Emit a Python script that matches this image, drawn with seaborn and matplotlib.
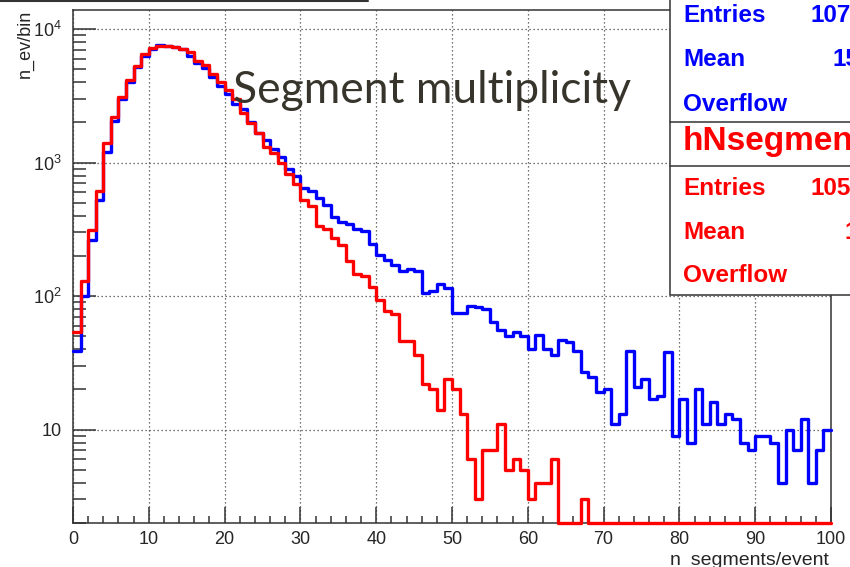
import numpy as np
import pandas as pd
import matplotlib
matplotlib.use("Agg")
import matplotlib.pyplot as plt
import seaborn as sns
from matplotlib.lines import Line2D
from matplotlib.patches import Rectangle
from matplotlib.ticker import FixedLocator, FixedFormatter, LogLocator, NullFormatter, MultipleLocator

# 100 bins of width 1 from 0 to 100
n_bins = 100
x_range = (0, 100)

# blue histogram (counts per bin)
blue_counts = [39, 101, 262, 528, 1200, 2055, 2985, 4030, 5200, 6300,
               7100, 7600, 7450, 7350, 7050, 6300, 5530, 5070, 4340, 3760,
               3240, 2740, 2500, 2000, 1670, 1470, 1260, 1104, 888, 791,
               640, 614, 543, 479, 392, 356, 345, 316, 307, 246,
               204, 185, 172, 153, 160, 153, 105, 110, 124, 116,
               75, 75, 85, 83, 80, 64, 56, 50, 54, 50,
               40, 51, 40, 36, 47, 45, 39, 27, 25, 19,
               20, 11, 13, 39, 21, 24, 17, 18, 38, 9,
               17, 8, 20, 11, 16, 11, 13, 12, 8, 7,
               9, 9, 8, 4, 10, 7, 12, 4, 7, 10]

# red histogram
red_counts = [54, 129, 311, 611, 1390, 2200, 3080, 4150, 5280, 6500,
              7170, 7460, 7480, 7380, 7130, 6680, 5730, 5340, 4600, 3980,
              3490, 2985, 2370, 1995, 1670, 1312, 1180, 998, 828, 690,
              525, 471, 333, 317, 274, 243, 183, 146, 141, 118,
              93, 78, 74, 46, 46, 36, 22, 20, 14, 24,
              20, 13, 6, 3, 7, 7, 11, 5, 6, 5,
              3, 4, 4, 6, 0, 0, 0, 3, 0, 0,
              0, 0, 0, 0, 0, 0, 0, 0, 0, 0,
              0, 0, 0, 0, 0, 0, 0, 0, 0, 0,
              0, 0, 0, 0, 0, 0, 0, 0, 0, 0]

ytick_vals = [10, 100, 1000, 10000]
ytick_labels = ["10", "10$^2$", "10$^3$", "10$^4$"]

# stats box rows: label, visible value, baseline (px from top)
blue_stats = [("Entries", "107", 22.5), ("Mean", "15", 66.5), ("Overflow", "", 111)]
red_stats = [("Entries", "105", 195), ("Mean", "1", 238.5), ("Overflow", "", 282)]
blue_val_x = [810, 832, 0]
red_val_x = [810, 845, 0]

sns.set_style("ticks")
plt.rcParams["font.family"] = ["Liberation Sans", "DejaVu Sans"]
plt.rcParams["mathtext.fontset"] = "custom"
plt.rcParams["mathtext.rm"] = "Liberation Sans"
plt.rcParams["mathtext.default"] = "regular"

W, H = 850, 567
ymin, ymax = 2, 1.4e4

fig = plt.figure(figsize=(W / 100, H / 100), dpi=100)
ax = fig.add_axes([73 / W, 1 - 523 / H, (831 - 73) / W, (523 - 9.5) / H])

# empty bins are drawn on the axis floor, like ROOT does
df = pd.DataFrame({
    "center": np.arange(n_bins) + 0.5,
    "blue": np.maximum(blue_counts, ymin),
    "red": np.maximum(red_counts, ymin),
})
sns.histplot(data=df, x="center", weights="blue", bins=n_bins, binrange=x_range,
             element="step", fill=False, color="#0000ff", linewidth=2.4, ax=ax)
sns.histplot(data=df, x="center", weights="red", bins=n_bins, binrange=x_range,
             element="step", fill=False, color="#ff0000", linewidth=2.4, ax=ax)
for ln in ax.lines:
    ln.set_clip_on(False)
    ln.set_zorder(3)

ax.set_yscale("log")
ax.set_xlim(*x_range)
ax.set_ylim(ymin, ymax)
ax.set_xlabel("")
ax.set_ylabel("")

ax.xaxis.set_major_locator(MultipleLocator(10))
ax.xaxis.set_minor_locator(MultipleLocator(2))
ax.yaxis.set_major_locator(FixedLocator(ytick_vals))
ax.yaxis.set_major_formatter(FixedFormatter(ytick_labels))
ax.yaxis.set_minor_locator(LogLocator(base=10, subs=np.arange(2, 10)))
ax.yaxis.set_minor_formatter(NullFormatter())

ax.tick_params(axis="x", which="major", direction="in", length=11.5, width=1.1,
               color="#333333", labelsize=13, pad=6, bottom=True, top=False)
ax.tick_params(axis="x", which="minor", direction="in", length=5, width=1.1,
               color="#333333", bottom=True, top=False)
ax.tick_params(axis="y", which="major", direction="in", length=16.5, width=1.1,
               color="#333333", labelsize=13, pad=8, left=True, right=False)
ax.tick_params(axis="y", which="minor", direction="in", length=9.4, width=1.1,
               color="#333333", left=True, right=False)

ax.grid(True, which="major", linestyle=(0, (1, 2.2)), color="#444444", linewidth=0.9)
for sp in ax.spines.values():
    sp.set_visible(True)
    sp.set_color("#333333")
    sp.set_linewidth(1.1)

# axis titles, ROOT style
fig.text(25 / W, 1 - 10 / H, "n_ev/bin", rotation=90, ha="center", va="top", fontsize=13)
fig.text(830 / W, 1 - 565 / H, "n_segments/event", ha="right", va="baseline", fontsize=14)

# line left at the top from a cropped box
fig.add_artist(Line2D([0, 368 / W], [1 - 1.2 / H] * 2, color="#333333", lw=1.5))

# stats box
bx = 670 / W
fig.add_artist(Rectangle((bx, 1 - 295 / H), 0.4, 0.6, transform=fig.transFigure,
                         facecolor="white", edgecolor="#333333", lw=1.1, zorder=5))
for yy in [122, 166]:
    fig.add_artist(Line2D([bx, 1.05], [1 - yy / H] * 2, color="#333333", lw=1.1, zorder=6))

for (lab, val, yb), vx in zip(blue_stats, blue_val_x):
    fig.text(683 / W, 1 - yb / H, lab, color="#0000ff", fontsize=17.5, fontweight="bold",
             va="baseline", zorder=7)
    if val:
        fig.text(vx / W, 1 - yb / H, val, color="#0000ff", fontsize=17.5, fontweight="bold",
                 va="baseline", zorder=7)
fig.text(683 / W, 1 - 150 / H, "hNsegments", color="#ff0000", fontsize=24, fontweight="bold",
         va="baseline", zorder=7)
for (lab, val, yb), vx in zip(red_stats, red_val_x):
    fig.text(683 / W, 1 - yb / H, lab, color="#ff0000", fontsize=17.5, fontweight="bold",
             va="baseline", zorder=7)
    if val:
        fig.text(vx / W, 1 - yb / H, val, color="#ff0000", fontsize=17.5, fontweight="bold",
                 va="baseline", zorder=7)

# slide title over the plot
title = fig.text(233 / W, 1 - 103 / H, "Segment multiplicity", family=["Lato", "DejaVu Sans"],
                 fontsize=30, color="#37342b", ha="left", va="baseline", zorder=4)
r = fig.canvas.get_renderer()
w = title.get_window_extent(r).width
title.set_fontsize(30 * 397 / w)

fig.savefig("out.png", dpi=100)
